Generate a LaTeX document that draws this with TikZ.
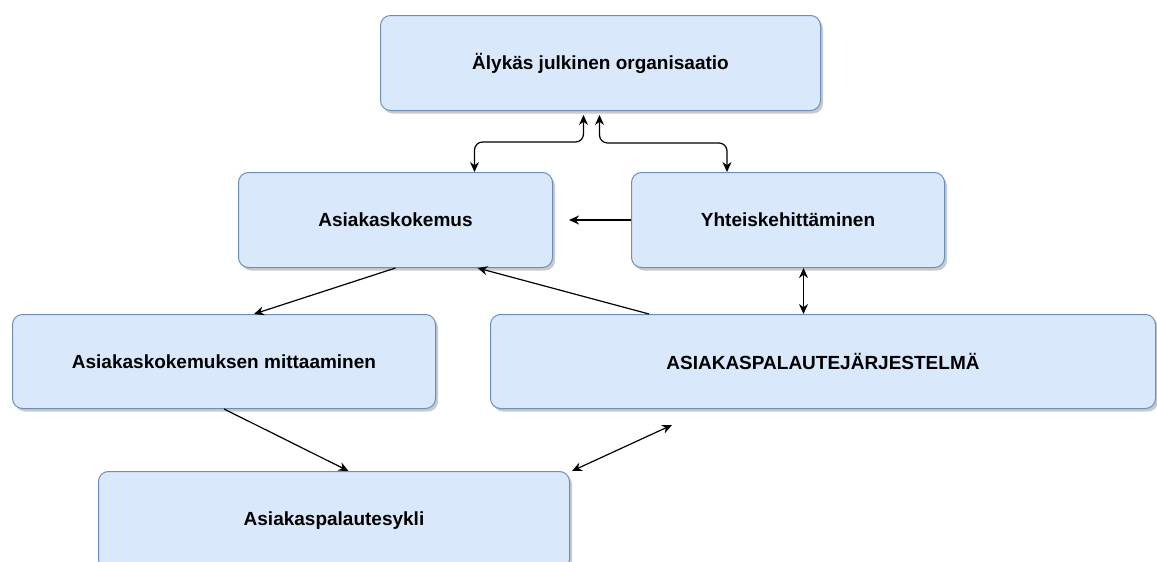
\documentclass[tikz,border=0pt]{standalone}
\usepackage{fontspec}
\setmainfont{Liberation Sans}
\usetikzlibrary{arrows.meta,shadows,calc}
\definecolor{boxfill}{HTML}{DAE8FC}
\definecolor{boxline}{HTML}{6C8EBF}
\begin{document}
\begin{tikzpicture}[x=1pt,y=-1pt,
  box/.style={draw=boxline,fill=boxfill,line width=1pt,rounded corners=10pt,
    anchor=north west,inner sep=0pt,
    font=\fontsize{19}{21}\selectfont\bfseries,
    drop shadow={shadow xshift=2.5pt,shadow yshift=-3pt,opacity=0.35,fill=black!60}},
  arr/.style={line width=1.2pt,-{Stealth[length=10pt,width=9pt]}},
  dbl/.style={line width=1.2pt,{Stealth[length=10pt,width=9pt]}-{Stealth[length=10pt,width=9pt]}}]
\useasboundingbox (0,0) rectangle (1157,562);

% boxes
\node[box,minimum width=440pt,minimum height=95pt] (org) at (380,15) {Älykäs julkinen organisaatio};
\node[box,minimum width=314pt,minimum height=95pt] (kok) at (238,172) {Asiakaskokemus};
\node[box,minimum width=313pt,minimum height=95pt] (yht) at (631,172) {Yhteiskehittäminen};
\node[box,minimum width=423pt,minimum height=94pt] (mit) at (12,314) {Asiakaskokemuksen mittaaminen};
\node[box,minimum width=665pt,minimum height=94pt] (jar) at (490,314) {ASIAKASPALAUTEJÄRJESTELMÄ};
\node[box,minimum width=471pt,minimum height=98pt] (syk) at (98,471) {Asiakaspalautesykli};
\coordinate (jarlow) at (672,425);

% connectors
\draw[dbl,rounded corners=8pt,shorten >=4pt] ([xshift=79pt]kok.north) -- ++(0,-30) -| ([xshift=-17pt]org.south);
\draw[dbl,rounded corners=8pt,shorten <=4pt] ([xshift=-1pt]org.south) -- ++(0,32) -| ([xshift=-61pt]yht.north);
\draw[arr,line width=1.6pt,shorten >=16pt] (yht.west) -- (kok.east);
\draw[arr] (kok.south) -- ([xshift=30pt]mit.north);
\draw[arr] ([xshift=-174pt]jar.north) -- ([xshift=82pt]kok.south);
\draw[dbl] ([xshift=15.5pt]yht.south) -- ([xshift=15.5pt]yht.south |- jar.north);
\draw[arr] (mit.south) -- ([xshift=14.5pt]syk.north);
\draw[dbl] ([xshift=2pt]syk.north east) -- (jarlow);
\end{tikzpicture}
\end{document}
